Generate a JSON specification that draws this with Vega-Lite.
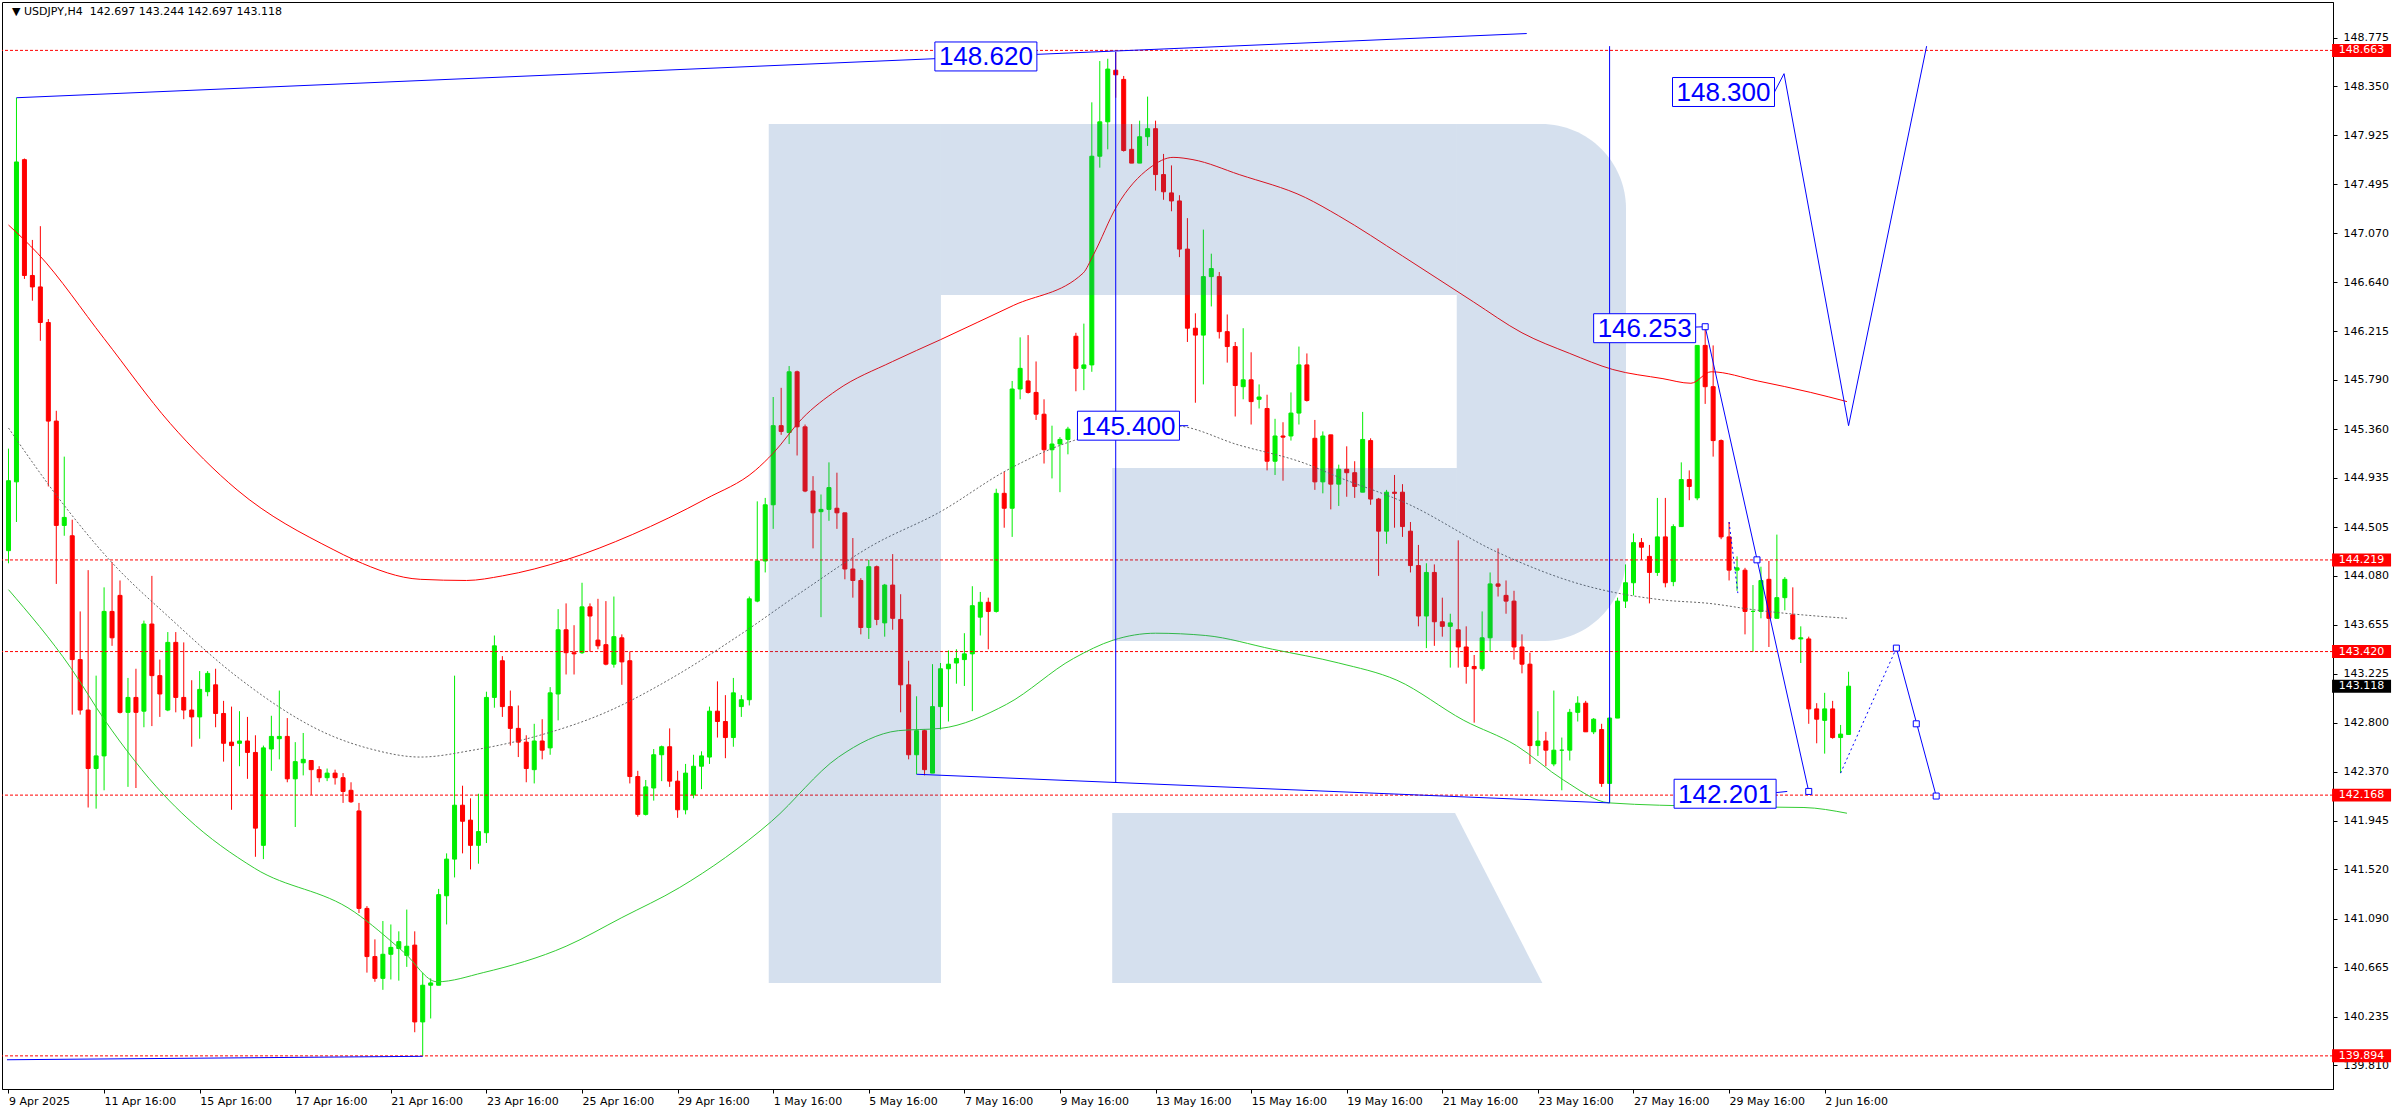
{
"$schema": "https://vega.github.io/schema/vega-lite/v6.json",
"width": 2331, "height": 1087,
"autosize": {"type": "none"},
"padding": {"left": 2, "top": 2, "right": 63, "bottom": 21},
"background": "white",
"config": {"view": {"stroke": "#000000", "strokeWidth": 1},
  "axis": {"domainColor": "#000000", "tickColor": "#000000", "labelColor": "#000000", "labelFont": "DejaVu Sans", "labelFontSize": 11, "grid": false, "domainWidth": 1, "tickWidth": 1}},
"datasets": {
"candles": [
{"k":0,"o":144.30,"h":145.19,"l":144.19,"c":144.91},
{"k":1,"o":144.90,"h":148.25,"l":144.55,"c":147.69},
{"k":2,"o":147.71,"h":147.72,"l":146.67,"c":146.70},
{"k":3,"o":146.70,"h":147.01,"l":146.48,"c":146.60},
{"k":4,"o":146.60,"h":147.13,"l":146.13,"c":146.29},
{"k":5,"o":146.29,"h":146.32,"l":144.86,"c":145.43},
{"k":6,"o":145.43,"h":145.52,"l":144.01,"c":144.52},
{"k":7,"o":144.52,"h":145.12,"l":144.43,"c":144.59},
{"k":8,"o":144.43,"h":144.57,"l":142.87,"c":143.35},
{"k":9,"o":143.35,"h":143.77,"l":142.87,"c":142.91},
{"k":10,"o":142.91,"h":144.13,"l":142.06,"c":142.40},
{"k":11,"o":142.40,"h":143.21,"l":142.05,"c":142.51},
{"k":12,"o":142.51,"h":143.98,"l":142.21,"c":143.77},
{"k":13,"o":143.77,"h":144.20,"l":143.47,"c":143.54},
{"k":14,"o":143.91,"h":144.04,"l":142.88,"c":142.89},
{"k":15,"o":142.89,"h":143.19,"l":142.24,"c":143.02},
{"k":16,"o":143.02,"h":143.27,"l":142.23,"c":142.89},
{"k":17,"o":142.90,"h":143.69,"l":142.76,"c":143.66},
{"k":18,"o":143.66,"h":144.08,"l":142.77,"c":143.21},
{"k":19,"o":143.21,"h":143.35,"l":142.85,"c":143.05},
{"k":20,"o":142.91,"h":143.59,"l":142.90,"c":143.50},
{"k":21,"o":143.50,"h":143.59,"l":142.89,"c":143.02},
{"k":22,"o":143.02,"h":143.50,"l":142.83,"c":142.91},
{"k":23,"o":142.91,"h":143.17,"l":142.59,"c":142.85},
{"k":24,"o":142.85,"h":143.25,"l":142.66,"c":143.09},
{"k":25,"o":143.07,"h":143.25,"l":143.03,"c":143.23},
{"k":26,"o":143.13,"h":143.27,"l":142.76,"c":142.88},
{"k":27,"o":142.88,"h":142.99,"l":142.46,"c":142.62},
{"k":28,"o":142.63,"h":142.94,"l":142.04,"c":142.60},
{"k":29,"o":142.62,"h":142.90,"l":142.42,"c":142.64},
{"k":30,"o":142.64,"h":142.85,"l":142.31,"c":142.54},
{"k":31,"o":142.54,"h":142.69,"l":141.63,"c":141.88},
{"k":32,"o":141.73,"h":142.60,"l":141.61,"c":142.58},
{"k":33,"o":142.57,"h":142.86,"l":142.38,"c":142.68},
{"k":34,"o":142.66,"h":143.08,"l":142.48,"c":142.68},
{"k":35,"o":142.68,"h":142.84,"l":142.28,"c":142.31},
{"k":36,"o":142.31,"h":142.63,"l":141.89,"c":142.46},
{"k":37,"o":142.45,"h":142.71,"l":142.34,"c":142.48},
{"k":38,"o":142.47,"h":142.47,"l":142.17,"c":142.39},
{"k":39,"o":142.39,"h":142.42,"l":142.28,"c":142.32},
{"k":40,"o":142.32,"h":142.40,"l":142.29,"c":142.36},
{"k":41,"o":142.36,"h":142.39,"l":142.26,"c":142.32},
{"k":42,"o":142.32,"h":142.36,"l":142.10,"c":142.20},
{"k":43,"o":142.21,"h":142.28,"l":142.10,"c":142.11},
{"k":44,"o":142.03,"h":142.10,"l":141.14,"c":141.18},
{"k":45,"o":141.18,"h":141.20,"l":140.62,"c":140.76},
{"k":46,"o":140.76,"h":140.91,"l":140.54,"c":140.57},
{"k":47,"o":140.57,"h":141.07,"l":140.47,"c":140.78},
{"k":48,"o":140.78,"h":141.04,"l":140.56,"c":140.84},
{"k":49,"o":140.83,"h":140.98,"l":140.55,"c":140.89},
{"k":50,"o":140.77,"h":141.17,"l":140.67,"c":140.85},
{"k":51,"o":140.86,"h":140.98,"l":140.10,"c":140.19},
{"k":52,"o":140.19,"h":140.62,"l":139.894,"c":140.51},
{"k":53,"o":140.51,"h":140.57,"l":140.22,"c":140.53},
{"k":54,"o":140.51,"h":141.35,"l":140.51,"c":141.30},
{"k":55,"o":141.29,"h":141.66,"l":141.04,"c":141.61},
{"k":56,"o":141.61,"h":143.21,"l":141.45,"c":142.08},
{"k":57,"o":142.08,"h":142.25,"l":141.66,"c":141.94},
{"k":58,"o":141.95,"h":142.14,"l":141.52,"c":141.73},
{"k":59,"o":141.73,"h":142.18,"l":141.57,"c":141.85},
{"k":60,"o":141.84,"h":143.07,"l":141.75,"c":143.02},
{"k":61,"o":143.02,"h":143.56,"l":142.93,"c":143.47},
{"k":62,"o":143.34,"h":143.38,"l":142.85,"c":142.94},
{"k":63,"o":142.94,"h":143.08,"l":142.60,"c":142.75},
{"k":64,"o":142.75,"h":142.95,"l":142.50,"c":142.63},
{"k":65,"o":142.63,"h":142.69,"l":142.28,"c":142.40},
{"k":66,"o":142.39,"h":142.79,"l":142.27,"c":142.64},
{"k":67,"o":142.64,"h":142.83,"l":142.48,"c":142.56},
{"k":68,"o":142.58,"h":143.11,"l":142.52,"c":143.06},
{"k":69,"o":143.05,"h":143.79,"l":142.82,"c":143.61},
{"k":70,"o":143.61,"h":143.84,"l":143.22,"c":143.41},
{"k":71,"o":143.41,"h":143.65,"l":143.22,"c":143.40},
{"k":72,"o":143.41,"h":144.02,"l":143.40,"c":143.81},
{"k":73,"o":143.81,"h":143.84,"l":143.42,"c":143.73},
{"k":74,"o":143.52,"h":143.88,"l":143.44,"c":143.47},
{"k":75,"o":143.48,"h":143.86,"l":143.30,"c":143.31},
{"k":76,"o":143.31,"h":143.90,"l":143.28,"c":143.55},
{"k":77,"o":143.54,"h":143.57,"l":143.13,"c":143.33},
{"k":78,"o":143.34,"h":143.42,"l":142.27,"c":142.33},
{"k":79,"o":142.33,"h":142.38,"l":141.98,"c":142.00},
{"k":80,"o":142.00,"h":142.30,"l":141.99,"c":142.24},
{"k":81,"o":142.23,"h":142.57,"l":142.12,"c":142.52},
{"k":82,"o":142.52,"h":142.60,"l":142.29,"c":142.59},
{"k":83,"o":142.59,"h":142.75,"l":142.24,"c":142.29},
{"k":84,"o":142.29,"h":142.38,"l":141.97,"c":142.04},
{"k":85,"o":142.04,"h":142.44,"l":142.00,"c":142.36},
{"k":86,"o":142.17,"h":142.52,"l":142.14,"c":142.42},
{"k":87,"o":142.42,"h":142.55,"l":142.22,"c":142.51},
{"k":88,"o":142.50,"h":142.94,"l":142.44,"c":142.90},
{"k":89,"o":142.90,"h":143.16,"l":142.67,"c":142.81},
{"k":90,"o":142.81,"h":143.04,"l":142.49,"c":142.67},
{"k":91,"o":142.67,"h":143.19,"l":142.59,"c":143.06},
{"k":92,"o":142.94,"h":143.04,"l":142.85,"c":143.00},
{"k":93,"o":143.00,"h":143.90,"l":142.95,"c":143.88},
{"k":94,"o":143.86,"h":144.73,"l":143.85,"c":144.21},
{"k":95,"o":144.21,"h":144.76,"l":144.11,"c":144.70},
{"k":96,"o":144.70,"h":145.64,"l":144.49,"c":145.39},
{"k":97,"o":145.39,"h":145.72,"l":145.31,"c":145.34},
{"k":98,"o":145.33,"h":145.91,"l":145.23,"c":145.86},
{"k":99,"o":145.86,"h":145.87,"l":145.13,"c":145.38},
{"k":100,"o":145.38,"h":145.40,"l":144.81,"c":144.82},
{"k":101,"o":144.82,"h":144.95,"l":144.32,"c":144.63},
{"k":102,"o":144.64,"h":144.79,"l":143.72,"c":144.66},
{"k":103,"o":144.66,"h":145.07,"l":144.56,"c":144.85},
{"k":104,"o":144.67,"h":144.98,"l":144.49,"c":144.63},
{"k":105,"o":144.63,"h":144.63,"l":144.05,"c":144.14},
{"k":106,"o":144.14,"h":144.41,"l":143.89,"c":144.04},
{"k":107,"o":144.04,"h":144.06,"l":143.57,"c":143.63},
{"k":108,"o":143.63,"h":144.22,"l":143.53,"c":144.16},
{"k":109,"o":144.16,"h":144.17,"l":143.65,"c":143.70},
{"k":110,"o":143.67,"h":144.01,"l":143.55,"c":144.00},
{"k":111,"o":144.00,"h":144.27,"l":143.61,"c":143.71},
{"k":112,"o":143.70,"h":143.92,"l":142.89,"c":143.13},
{"k":113,"o":143.13,"h":143.34,"l":142.48,"c":142.52},
{"k":114,"o":142.52,"h":143.03,"l":142.35,"c":142.73},
{"k":115,"o":142.73,"h":142.74,"l":142.34,"c":142.39},
{"k":116,"o":142.36,"h":143.31,"l":142.36,"c":142.94},
{"k":117,"o":142.94,"h":143.32,"l":142.74,"c":143.27},
{"k":118,"o":143.27,"h":143.43,"l":142.81,"c":143.31},
{"k":119,"o":143.32,"h":143.44,"l":143.14,"c":143.36},
{"k":120,"o":143.35,"h":143.58,"l":143.12,"c":143.40},
{"k":121,"o":143.40,"h":143.99,"l":142.90,"c":143.82},
{"k":122,"o":143.72,"h":143.94,"l":143.56,"c":143.85},
{"k":123,"o":143.85,"h":143.89,"l":143.44,"c":143.77},
{"k":124,"o":143.77,"h":144.84,"l":143.76,"c":144.80},
{"k":125,"o":144.80,"h":144.99,"l":144.50,"c":144.67},
{"k":126,"o":144.67,"h":145.78,"l":144.42,"c":145.71},
{"k":127,"o":145.71,"h":146.16,"l":145.62,"c":145.89},
{"k":128,"o":145.78,"h":146.18,"l":145.67,"c":145.68},
{"k":129,"o":145.68,"h":145.95,"l":145.44,"c":145.49},
{"k":130,"o":145.49,"h":145.62,"l":145.06,"c":145.18},
{"k":131,"o":145.18,"h":145.39,"l":144.93,"c":145.23},
{"k":132,"o":145.23,"h":145.29,"l":144.81,"c":145.27},
{"k":133,"o":145.27,"h":145.38,"l":145.14,"c":145.36},
{"k":134,"o":146.17,"h":146.20,"l":145.69,"c":145.89},
{"k":135,"o":145.89,"h":146.28,"l":145.70,"c":145.92},
{"k":136,"o":145.92,"h":148.21,"l":145.86,"c":147.74},
{"k":137,"o":147.74,"h":148.57,"l":147.64,"c":148.04},
{"k":138,"o":148.04,"h":148.59,"l":147.80,"c":148.50},
{"k":139,"o":148.49,"h":148.65,"l":148.25,"c":148.45},
{"k":140,"o":148.41,"h":148.44,"l":147.78,"c":147.79},
{"k":141,"o":147.80,"h":148.02,"l":147.68,"c":147.68},
{"k":142,"o":147.68,"h":148.05,"l":147.68,"c":147.91},
{"k":143,"o":147.91,"h":148.26,"l":147.83,"c":147.98},
{"k":144,"o":147.98,"h":148.05,"l":147.44,"c":147.58},
{"k":145,"o":147.58,"h":147.76,"l":147.36,"c":147.43},
{"k":146,"o":147.42,"h":147.66,"l":147.26,"c":147.35},
{"k":147,"o":147.35,"h":147.40,"l":146.86,"c":146.93},
{"k":148,"o":146.93,"h":147.20,"l":146.12,"c":146.24},
{"k":149,"o":146.24,"h":146.37,"l":145.59,"c":146.18},
{"k":150,"o":146.18,"h":147.10,"l":145.75,"c":146.69},
{"k":151,"o":146.69,"h":146.89,"l":146.43,"c":146.76},
{"k":152,"o":146.69,"h":146.73,"l":146.15,"c":146.21},
{"k":153,"o":146.21,"h":146.36,"l":145.94,"c":146.08},
{"k":154,"o":146.08,"h":146.12,"l":145.47,"c":145.74},
{"k":155,"o":145.73,"h":146.24,"l":145.62,"c":145.79},
{"k":156,"o":145.79,"h":146.03,"l":145.40,"c":145.60},
{"k":157,"o":145.62,"h":145.75,"l":145.54,"c":145.64},
{"k":158,"o":145.54,"h":145.66,"l":145.00,"c":145.08},
{"k":159,"o":145.08,"h":145.45,"l":144.96,"c":145.30},
{"k":160,"o":145.30,"h":145.42,"l":144.91,"c":145.29},
{"k":161,"o":145.30,"h":145.68,"l":145.26,"c":145.50},
{"k":162,"o":145.50,"h":146.08,"l":145.40,"c":145.92},
{"k":163,"o":145.92,"h":146.02,"l":145.60,"c":145.61},
{"k":164,"o":145.28,"h":145.44,"l":144.83,"c":144.90},
{"k":165,"o":144.90,"h":145.34,"l":144.80,"c":145.30},
{"k":166,"o":145.31,"h":145.31,"l":144.66,"c":144.88},
{"k":167,"o":144.88,"h":145.05,"l":144.69,"c":145.01},
{"k":168,"o":145.01,"h":145.21,"l":144.77,"c":144.98},
{"k":169,"o":144.98,"h":145.08,"l":144.76,"c":144.86},
{"k":170,"o":144.81,"h":145.51,"l":144.81,"c":145.27},
{"k":171,"o":145.26,"h":145.28,"l":144.70,"c":144.75},
{"k":172,"o":144.75,"h":144.76,"l":144.08,"c":144.47},
{"k":173,"o":144.47,"h":144.83,"l":144.36,"c":144.81},
{"k":174,"o":144.81,"h":144.96,"l":144.50,"c":144.80},
{"k":175,"o":144.81,"h":144.88,"l":144.42,"c":144.51},
{"k":176,"o":144.47,"h":144.55,"l":144.11,"c":144.17},
{"k":177,"o":144.17,"h":144.35,"l":143.64,"c":143.73},
{"k":178,"o":143.73,"h":144.19,"l":143.45,"c":144.11},
{"k":179,"o":144.11,"h":144.18,"l":143.47,"c":143.68},
{"k":180,"o":143.68,"h":143.89,"l":143.55,"c":143.64},
{"k":181,"o":143.64,"h":143.75,"l":143.28,"c":143.67},
{"k":182,"o":143.61,"h":144.39,"l":143.28,"c":143.46},
{"k":183,"o":143.46,"h":143.64,"l":143.14,"c":143.29},
{"k":184,"o":143.29,"h":143.39,"l":142.80,"c":143.27},
{"k":185,"o":143.27,"h":143.77,"l":143.25,"c":143.54},
{"k":186,"o":143.54,"h":144.11,"l":143.42,"c":144.01},
{"k":187,"o":144.01,"h":144.32,"l":143.90,"c":143.99},
{"k":188,"o":143.91,"h":144.04,"l":143.75,"c":143.86},
{"k":189,"o":143.86,"h":143.95,"l":143.35,"c":143.46},
{"k":190,"o":143.46,"h":143.57,"l":143.23,"c":143.31},
{"k":191,"o":143.31,"h":143.41,"l":142.44,"c":142.60},
{"k":192,"o":142.60,"h":142.90,"l":142.51,"c":142.64},
{"k":193,"o":142.64,"h":142.72,"l":142.42,"c":142.56},
{"k":194,"o":142.44,"h":143.08,"l":142.42,"c":142.56},
{"k":195,"o":142.56,"h":142.67,"l":142.21,"c":142.56},
{"k":196,"o":142.56,"h":142.92,"l":142.47,"c":142.89},
{"k":197,"o":142.89,"h":143.03,"l":142.81,"c":142.97},
{"k":198,"o":142.97,"h":142.99,"l":142.72,"c":142.72},
{"k":199,"o":142.72,"h":142.84,"l":142.70,"c":142.83},
{"k":200,"o":142.74,"h":142.79,"l":142.24,"c":142.27},
{"k":201,"o":142.27,"h":142.85,"l":142.10,"c":142.84},
{"k":202,"o":142.84,"h":143.89,"l":142.84,"c":143.86},
{"k":203,"o":143.86,"h":144.18,"l":143.80,"c":144.02},
{"k":204,"o":144.02,"h":144.45,"l":143.91,"c":144.37},
{"k":205,"o":144.37,"h":144.41,"l":144.22,"c":144.33},
{"k":206,"o":144.25,"h":144.35,"l":143.84,"c":144.11},
{"k":207,"o":144.11,"h":144.76,"l":144.08,"c":144.42},
{"k":208,"o":144.42,"h":144.76,"l":143.98,"c":144.02},
{"k":209,"o":144.03,"h":144.53,"l":143.99,"c":144.51},
{"k":210,"o":144.51,"h":145.07,"l":144.51,"c":144.92},
{"k":211,"o":144.92,"h":145.00,"l":144.74,"c":144.86},
{"k":212,"o":144.76,"h":146.09,"l":144.74,"c":146.09},
{"k":213,"o":146.09,"h":146.253,"l":145.58,"c":145.73},
{"k":214,"o":145.73,"h":146.09,"l":145.12,"c":145.26},
{"k":215,"o":145.26,"h":145.27,"l":144.40,"c":144.42},
{"k":216,"o":144.42,"h":144.55,"l":144.04,"c":144.13},
{"k":217,"o":144.13,"h":144.25,"l":143.95,"c":144.15},
{"k":218,"o":144.13,"h":144.15,"l":143.57,"c":143.77},
{"k":219,"o":143.77,"h":144.00,"l":143.42,"c":143.77},
{"k":220,"o":143.77,"h":144.16,"l":143.71,"c":144.04},
{"k":221,"o":144.05,"h":144.21,"l":143.46,"c":143.71},
{"k":222,"o":143.71,"h":144.44,"l":143.71,"c":143.89},
{"k":223,"o":143.89,"h":144.07,"l":143.78,"c":144.05},
{"k":224,"o":143.74,"h":143.98,"l":143.52,"c":143.53},
{"k":225,"o":143.53,"h":143.64,"l":143.32,"c":143.54},
{"k":226,"o":143.53,"h":143.55,"l":142.79,"c":142.92},
{"k":227,"o":142.92,"h":142.97,"l":142.62,"c":142.83},
{"k":228,"o":142.82,"h":143.06,"l":142.53,"c":142.92},
{"k":229,"o":142.92,"h":142.99,"l":142.66,"c":142.67},
{"k":230,"o":142.67,"h":142.78,"l":142.36,"c":142.70},
{"k":231,"o":142.697,"h":143.244,"l":142.697,"c":143.118}
],
"redma": [
{"k":0,"p":147.14},{"k":3.7,"p":146.89},{"k":12,"p":146.15},{"k":20.3,"p":145.41},{"k":28.7,"p":144.83},{"k":40.75,"p":144.31},{"k":43.4,"p":144.22},{"k":51.7,"p":144.05},{"k":57.5,"p":144.04},{"k":62,"p":144.08},{"k":70,"p":144.22},{"k":78.3,"p":144.44},{"k":87.5,"p":144.75},{"k":93.75,"p":145.0},{"k":96,"p":145.15},{"k":99.6,"p":145.45},{"k":104,"p":145.70},{"k":111,"p":145.95},{"k":117,"p":146.14},{"k":126.2,"p":146.44},{"k":134.9,"p":146.72},{"k":136.2,"p":146.88},{"k":139.1,"p":147.30},{"k":143.3,"p":147.64},{"k":146.2,"p":147.73},{"k":148.7,"p":147.71},{"k":154.5,"p":147.58},{"k":162.8,"p":147.38},{"k":167,"p":147.22},{"k":175,"p":146.87},{"k":183.9,"p":146.47},{"k":190,"p":146.20},{"k":196,"p":146.02},{"k":201.4,"p":145.88},{"k":207.7,"p":145.80},{"k":211.2,"p":145.76},{"k":213.75,"p":145.86},{"k":219.6,"p":145.78},{"k":226.25,"p":145.68},{"k":230.8,"p":145.60}
],
"greyma": [
{"k":0,"p":145.37},{"k":6.6,"p":144.73},{"k":12.8,"p":144.21},{"k":20.3,"p":143.71},{"k":28.7,"p":143.20},{"k":40.75,"p":142.68},{"k":45.5,"p":142.57},{"k":51.7,"p":142.50},{"k":58.3,"p":142.56},{"k":66.7,"p":142.69},{"k":75,"p":142.89},{"k":83.3,"p":143.19},{"k":91.7,"p":143.56},{"k":100,"p":143.96},{"k":108.3,"p":144.34},{"k":117,"p":144.64},{"k":125.3,"p":145.00},{"k":133.7,"p":145.26},{"k":140,"p":145.36},{"k":146.2,"p":145.39},{"k":154.5,"p":145.22},{"k":162.8,"p":145.06},{"k":167,"p":144.94},{"k":175.6,"p":144.71},{"k":186.8,"p":144.29},{"k":197.7,"p":144.00},{"k":207.7,"p":143.87},{"k":213.5,"p":143.84},{"k":219.6,"p":143.78},{"k":230.8,"p":143.71}
],
"greenma": [
{"k":0,"p":143.96},{"k":7.8,"p":143.28},{"k":12.1,"p":142.82},{"k":19.5,"p":142.17},{"k":22.4,"p":141.97},{"k":30.9,"p":141.53},{"k":43.4,"p":141.15},{"k":49.6,"p":140.80},{"k":53.8,"p":140.54},{"k":59.6,"p":140.62},{"k":70,"p":140.85},{"k":77,"p":141.10},{"k":84.2,"p":141.36},{"k":95.8,"p":141.94},{"k":104.2,"p":142.50},{"k":111.7,"p":142.73},{"k":117,"p":142.75},{"k":125.3,"p":142.96},{"k":133.7,"p":143.36},{"k":138.7,"p":143.52},{"k":144,"p":143.58},{"k":150.3,"p":143.56},{"k":158.7,"p":143.44},{"k":167,"p":143.32},{"k":174.3,"p":143.17},{"k":182.7,"p":142.82},{"k":189.3,"p":142.60},{"k":195.2,"p":142.30},{"k":201,"p":142.10},{"k":213.5,"p":142.07},{"k":225.4,"p":142.06},{"k":230.8,"p":142.01}
],
"levels": [{"p":148.663},{"p":144.219},{"p":143.420},{"p":142.168},{"p":139.894}],
"wm_rects": [
{"x1":95.44,"x2":117.06,"y1":148.021,"y2":140.530},
{"x1":117.06,"x2":181.81,"y1":148.021,"y2":146.530},
{"x1":138.56,"x2":181.81,"y1":145.021,"y2":143.512}
],
"wm_round": [{"x1":181.81,"x2":203.06,"y1":148.021,"y2":143.512}],
"wm_leg": [{"k":138.56,"t":142.012,"b":140.530},{"k":181.6,"t":142.012,"b":140.530},{"k":192.56,"t":140.530,"b":140.530}],
"segs": [
{"k1":1,"p1":148.25,"k2":190.6,"p2":148.81},
{"k1":114,"p1":142.35,"k2":201,"p2":142.10},
{"k1":-0.19,"p1":139.86,"k2":52,"p2":139.89},
{"k1":139,"p1":148.65,"k2":139,"p2":142.28},
{"k1":201,"p1":148.70,"k2":201,"p2":142.10},
{"k1":213,"p1":146.253,"k2":226,"p2":142.20},
{"k1":237,"p1":143.45,"k2":242,"p2":142.16},
{"k1":222.9,"p1":148.46,"k2":231,"p2":145.39},
{"k1":231,"p1":145.39,"k2":240.8,"p2":148.70},
{"k1":147.0,"p1":145.39,"k2":148.1,"p2":145.39},
{"k1":211.8,"p1":146.25,"k2":213,"p2":146.253},
{"k1":221.9,"p1":142.19,"k2":223.3,"p2":142.20},
{"k1":221.7,"p1":148.30,"k2":222.9,"p2":148.46}
],
"dotsegs": [
{"k1":230,"p1":142.36,"k2":237,"p2":143.45},
{"k1":216,"p1":144.55,"k2":217.1,"p2":143.93}
],
"markers": [{"k":213,"p":146.253},{"k":219.5,"p":144.22},{"k":226,"p":142.20},{"k":237,"p":143.45},{"k":239.5,"p":142.79},{"k":242,"p":142.16}],
"labels": [
{"t":"148.620","k":122.7,"p":148.61},
{"t":"145.400","k":140.6,"p":145.39},
{"t":"146.253","k":205.4,"p":146.24},
{"t":"148.300","k":215.3,"p":148.30},
{"t":"142.201","k":215.5,"p":142.18}
]
},
"layer": [
{"data": {"name": "candles"},
 "mark": {"type": "rule", "strokeWidth": 1},
 "encoding": {
  "x": {"field": "k", "type": "quantitative", "scale": {"domain": [-0.1875, 291.1875], "nice": false, "zero": false},
    "axis": {"orient": "bottom", "title": null, "values": [0,12,24,36,48,60,72,84,96,108,120,132,144,156,168,180,192,204,216,228],
      "labelExpr": "['9 Apr 2025','11 Apr 16:00','15 Apr 16:00','17 Apr 16:00','21 Apr 16:00','23 Apr 16:00','25 Apr 16:00','29 Apr 16:00','1 May 16:00','5 May 16:00','7 May 16:00','9 May 16:00','13 May 16:00','15 May 16:00','19 May 16:00','21 May 16:00','23 May 16:00','27 May 16:00','29 May 16:00','2 Jun 16:00'][round(datum.value/12)]",
      "labelAlign": "left", "labelBaseline": "top", "labelPadding": 2, "tickSize": 4, "labelOverlap": false, "labelFlush": false, "labelBound": false}},
  "y": {"field": "l", "type": "quantitative", "scale": {"domain": [139.605, 149.085], "nice": false, "zero": false},
    "axis": {"orient": "right", "title": null, "values": [148.775,148.35,147.925,147.495,147.07,146.64,146.215,145.79,145.36,144.935,144.505,144.08,143.655,143.225,142.8,142.37,141.945,141.52,141.09,140.665,140.235,139.81],
      "format": ".3f", "tickSize": 4, "labelPadding": 6, "labelAlign": "left", "labelOverlap": false, "labelFlush": false, "labelBound": false}},
  "y2": {"field": "h"},
  "color": {"condition": {"test": "datum.c >= datum.o", "value": "#00ee00"}, "value": "#ff0000"}
 }},
{"data": {"name": "candles"},
 "mark": {"type": "bar", "width": 4, "strokeWidth": 1},
 "encoding": {
  "x": {"field": "k", "type": "quantitative"},
  "y": {"field": "o", "type": "quantitative"},
  "y2": {"field": "c"},
  "color": {"condition": {"test": "datum.c >= datum.o", "value": "#00ee00"}, "value": "#ff0000"},
  "stroke": {"condition": {"test": "datum.c >= datum.o", "value": "#00ee00"}, "value": "#ff0000"}
 }},
{"data": {"name": "levels"},
 "mark": {"type": "rule", "color": "#ff0000", "strokeWidth": 1, "strokeDash": [3, 2]},
 "encoding": {"y": {"field": "p", "type": "quantitative"}}},
{"data": {"name": "redma"},
 "mark": {"type": "line", "color": "#ff0000", "strokeWidth": 1, "interpolate": "monotone"},
 "encoding": {"x": {"field": "k", "type": "quantitative"}, "y": {"field": "p", "type": "quantitative"}}},
{"data": {"name": "greyma"},
 "mark": {"type": "line", "color": "#666666", "strokeWidth": 1, "strokeDash": [2, 2], "interpolate": "monotone"},
 "encoding": {"x": {"field": "k", "type": "quantitative"}, "y": {"field": "p", "type": "quantitative"}}},
{"data": {"name": "greenma"},
 "mark": {"type": "line", "color": "#33cc33", "strokeWidth": 1, "interpolate": "monotone"},
 "encoding": {"x": {"field": "k", "type": "quantitative"}, "y": {"field": "p", "type": "quantitative"}}},
{"data": {"name": "wm_rects"},
 "mark": {"type": "rect", "fill": "#2d62aa", "fillOpacity": 0.2, "strokeWidth": 0},
 "encoding": {"x": {"field": "x1", "type": "quantitative"}, "x2": {"field": "x2"}, "y": {"field": "y1", "type": "quantitative"}, "y2": {"field": "y2"}}},
{"data": {"name": "wm_round"},
 "mark": {"type": "rect", "fill": "#2d62aa", "fillOpacity": 0.2, "strokeWidth": 0, "cornerRadiusTopRight": 170, "cornerRadiusBottomRight": 170},
 "encoding": {"x": {"field": "x1", "type": "quantitative"}, "x2": {"field": "x2"}, "y": {"field": "y1", "type": "quantitative"}, "y2": {"field": "y2"}}},
{"data": {"name": "wm_leg"},
 "mark": {"type": "area", "fill": "#2d62aa", "fillOpacity": 0.2, "orient": "vertical", "interpolate": "linear"},
 "encoding": {"x": {"field": "k", "type": "quantitative"}, "y": {"field": "t", "type": "quantitative"}, "y2": {"field": "b"}}},
{"data": {"name": "segs"},
 "mark": {"type": "rule", "color": "#0000ff", "strokeWidth": 1},
 "encoding": {"x": {"field": "k1", "type": "quantitative"}, "x2": {"field": "k2"}, "y": {"field": "p1", "type": "quantitative"}, "y2": {"field": "p2"}}},
{"data": {"name": "dotsegs"},
 "mark": {"type": "rule", "color": "#0000ff", "strokeWidth": 1, "strokeDash": [2, 3]},
 "encoding": {"x": {"field": "k1", "type": "quantitative"}, "x2": {"field": "k2"}, "y": {"field": "p1", "type": "quantitative"}, "y2": {"field": "p2"}}},
{"data": {"name": "markers"},
 "mark": {"type": "point", "shape": "square", "size": 36, "filled": true, "fill": "#ffffff", "stroke": "#0000ff", "strokeWidth": 1, "opacity": 1},
 "encoding": {"x": {"field": "k", "type": "quantitative"}, "y": {"field": "p", "type": "quantitative"}}},
{"data": {"name": "labels"},
 "mark": {"type": "point", "shape": "M-1,-0.284L1,-0.284L1,0.284L-1,0.284Z", "size": 10404, "filled": true, "fill": "#ffffff", "stroke": "#0000ff", "strokeWidth": 1, "opacity": 1},
 "encoding": {"x": {"field": "k", "type": "quantitative"}, "y": {"field": "p", "type": "quantitative"}}},
{"data": {"name": "labels"},
 "mark": {"type": "text", "font": "Liberation Sans", "fontSize": 26, "color": "#0000ff", "align": "center", "baseline": "middle", "dy": 1},
 "encoding": {"x": {"field": "k", "type": "quantitative"}, "y": {"field": "p", "type": "quantitative"}, "text": {"field": "t"}}},
{"data": {"name": "levels"},
 "mark": {"type": "point", "shape": "M-1,-0.22L1,-0.22L1,0.22L-1,0.22Z", "size": 3481, "filled": true, "color": "#ff0000", "opacity": 1, "strokeWidth": 0},
 "encoding": {"x": {"datum": 295.4, "type": "quantitative"}, "y": {"field": "p", "type": "quantitative"}}},
{"data": {"name": "levels"},
 "mark": {"type": "text", "font": "DejaVu Sans", "fontSize": 11, "color": "#ffffff", "align": "center", "baseline": "middle"},
 "encoding": {"x": {"datum": 295.4, "type": "quantitative"}, "y": {"field": "p", "type": "quantitative"}, "text": {"field": "p", "type": "quantitative", "format": ".3f"}}},
{"data": {"values": [{"p": 143.118}]},
 "mark": {"type": "point", "shape": "M-1,-0.22L1,-0.22L1,0.22L-1,0.22Z", "size": 3481, "filled": true, "color": "#000000", "opacity": 1, "strokeWidth": 0},
 "encoding": {"x": {"datum": 295.4, "type": "quantitative"}, "y": {"field": "p", "type": "quantitative"}}},
{"data": {"values": [{"p": 143.118}]},
 "mark": {"type": "text", "font": "DejaVu Sans", "fontSize": 11, "color": "#ffffff", "align": "center", "baseline": "middle"},
 "encoding": {"x": {"datum": 295.4, "type": "quantitative"}, "y": {"field": "p", "type": "quantitative"}, "text": {"field": "p", "type": "quantitative", "format": ".3f"}}},
{"data": {"values": [{"t": "▼ USDJPY,H4 \u00a0142.697 143.244 142.697 143.118"}]},
 "mark": {"type": "text", "font": "DejaVu Sans", "fontSize": 11, "color": "#000000", "align": "left", "baseline": "middle"},
 "encoding": {"x": {"datum": 0.45, "type": "quantitative"}, "y": {"datum": 148.994, "type": "quantitative"}, "text": {"field": "t"}}}
]
}
